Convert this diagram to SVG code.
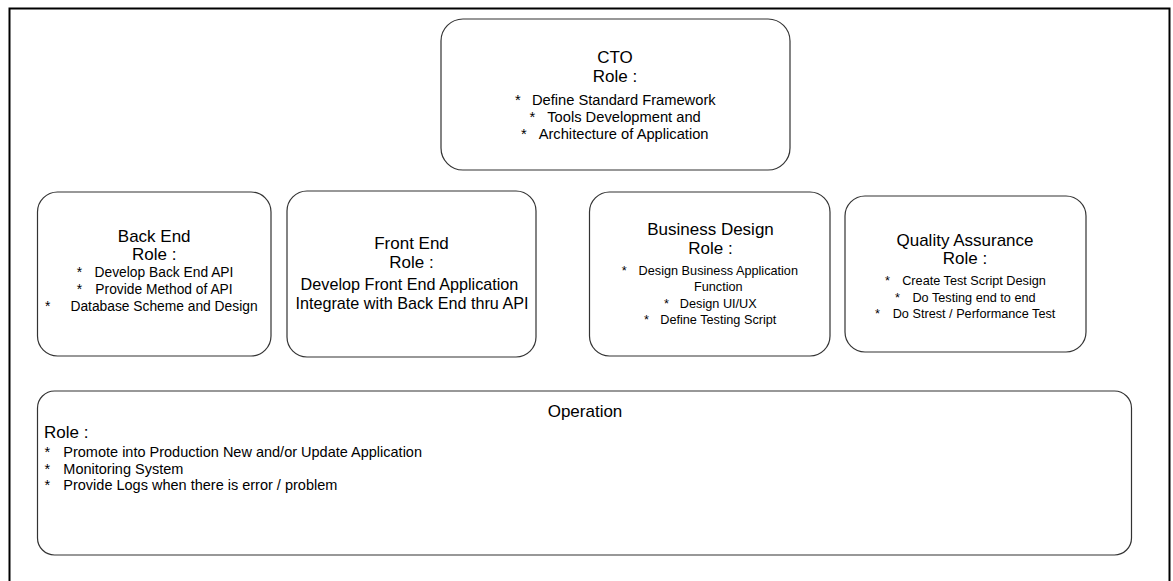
<svg xmlns="http://www.w3.org/2000/svg" width="1173" height="581" viewBox="0 0 1173 581">
<style>
.box{fill:#fff;stroke:#333;stroke-width:1.2}
text{font-family:"Liberation Sans",Arial,sans-serif;fill:#000}
.t{font-size:17px;text-anchor:middle}
.m{text-anchor:middle}
.f{font-size:16.2px;text-anchor:middle}
.c{font-size:14.7px}
.k{font-size:13.8px}
.s{font-size:12.7px}
.o{font-size:14.5px}
</style>
<rect width="1173" height="581" fill="#fff"/>
<path d="M9.5 590 V8.5 H1169.5 V590" fill="none" stroke="#000" stroke-width="2"/>
<g id="connectors"></g>
<g id="cto">
<rect class="box" x="441" y="19" width="349" height="151" rx="22"/>
<text class="t" x="615" y="63">CTO</text>
<text class="t" x="615" y="82">Role :</text>
<text class="c" x="515" y="105">*</text><text class="c m" x="623.8" y="105">Define Standard Framework</text>
<text class="c" x="529.5" y="121.5">*</text><text class="c m" x="624" y="121.5">Tools Development and</text>
<text class="c" x="521" y="139">*</text><text class="c m" x="623.6" y="139">Architecture of Application</text>
</g>
<g id="backend">
<rect class="box" x="37.5" y="192" width="233.5" height="164" rx="20"/>
<text class="t" x="154.2" y="242">Back End</text>
<text class="t" x="154.2" y="260">Role :</text>
<text class="k" x="76.7" y="277">*</text><text class="k m" x="164" y="277">Develop Back End API</text>
<text class="k" x="76.7" y="294">*</text><text class="k m" x="164" y="294">Provide Method of API</text>
<text class="k" x="45" y="311">*</text><text class="k m" x="164" y="311">Database Scheme and Design</text>
</g>
<g id="frontend">
<rect class="box" x="287" y="191" width="249" height="166" rx="20"/>
<text class="t" x="411.5" y="249">Front End</text>
<text class="t" x="411.5" y="268">Role :</text>
<text class="f" x="409.5" y="290">Develop Front End Application</text>
<text class="f" x="412" y="309">Integrate with Back End thru API</text>
</g>
<g id="business">
<rect class="box" x="589.5" y="192" width="240.5" height="164" rx="20"/>
<text class="t" x="710.5" y="235">Business Design</text>
<text class="t" x="710.5" y="254">Role :</text>
<text class="s" x="621.7" y="275">*</text><text class="s m" x="718.3" y="275">Design Business Application</text>
<text class="s m" x="718.3" y="291">Function</text>
<text class="s" x="664" y="308">*</text><text class="s m" x="718.3" y="308">Design UI/UX</text>
<text class="s" x="644" y="324">*</text><text class="s m" x="718.3" y="324">Define Testing Script</text>
</g>
<g id="qa">
<rect class="box" x="845" y="196" width="241" height="156" rx="20"/>
<text class="t" x="965" y="246">Quality Assurance</text>
<text class="t" x="965" y="264">Role :</text>
<text class="s" x="885" y="285">*</text><text class="s m" x="974" y="285">Create Test Script Design</text>
<text class="s" x="895" y="302">*</text><text class="s m" x="974" y="302">Do Testing end to end</text>
<text class="s" x="875" y="318">*</text><text class="s m" x="974" y="318">Do Strest / Performance Test</text>
</g>
<g id="operation">
<rect class="box" x="37.5" y="391" width="1094" height="164" rx="17"/>
<text class="t" x="585" y="417">Operation</text>
<text x="44" y="438" style="font-size:17px">Role :</text>
<text class="o" x="44.5" y="457">*</text><text class="o" x="63.3" y="457">Promote into Production New and/or Update Application</text>
<text class="o" x="44.5" y="473.5">*</text><text class="o" x="63.3" y="473.5">Monitoring System</text>
<text class="o" x="44.5" y="490">*</text><text class="o" x="63.3" y="490">Provide Logs when there is error / problem</text>
</g>
</svg>
